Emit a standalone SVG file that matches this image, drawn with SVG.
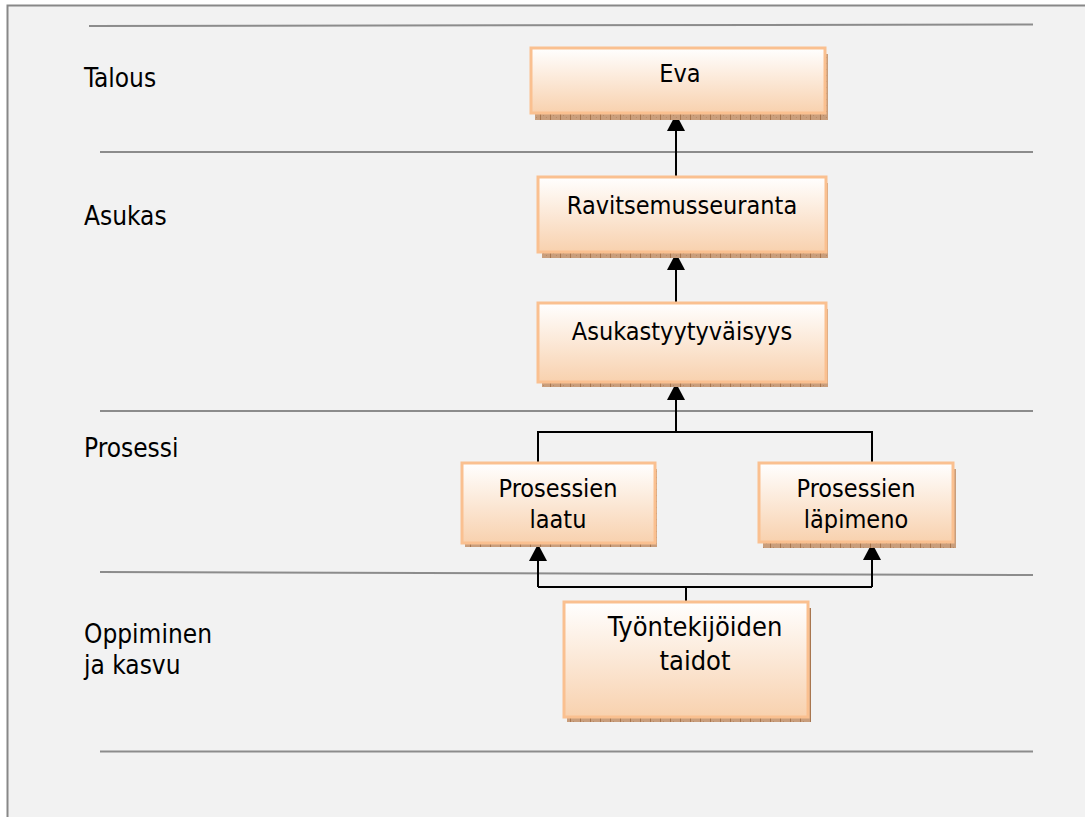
<svg xmlns="http://www.w3.org/2000/svg" width="1085" height="817" viewBox="0 0 1085 817">
  <style>
    .lane { stroke: #8c8c8c; stroke-width: 2; fill: none; }
    .lbl { font-family: "DejaVu Sans Condensed", "DejaVu Sans", sans-serif; font-stretch: condensed; font-size: 26px; fill: #000; }
    .box { fill: url(#peach); stroke: #fac090; stroke-width: 3; }
    .shadow { fill: url(#grain); }
    .btxt { font-family: "DejaVu Sans Condensed", "DejaVu Sans", sans-serif; font-stretch: condensed; font-size: 25px; fill: #000; text-anchor: middle; }
    .big { font-size: 27px; }
    .conn { stroke: #000; stroke-width: 2; fill: none; }
  </style>
  <defs>
    <linearGradient id="peach" x1="0" y1="0" x2="0" y2="1">
      <stop offset="0" stop-color="#ffffff"/>
      <stop offset="1" stop-color="#f8d1ae"/>
    </linearGradient>
    <pattern id="grain" width="10" height="6" patternUnits="userSpaceOnUse">
      <rect width="10" height="6" fill="#c99e7c"/>
      <rect x="0" y="0" width="1" height="6" fill="#a8764f"/>
      <rect x="3" y="1" width="1" height="1" fill="#b98a66"/>
      <rect x="6" y="3" width="1" height="1" fill="#b98a66"/>
    </pattern>
    <marker id="arrow" markerUnits="userSpaceOnUse" markerWidth="17" markerHeight="18" refX="17" refY="9" orient="auto">
      <path d="M0,0 L17,9 L0,18 Z" fill="#000"/>
    </marker>
  </defs>

  <!-- page -->
  <rect x="0" y="0" width="1085" height="817" fill="#ffffff"/>
  <rect x="7.5" y="5.5" width="1100" height="900" fill="#f2f2f2" stroke="#888888" stroke-width="2"/>

  <!-- perspective lanes -->
  <g id="lanes">
    <path class="lane" d="M89,26 L1033,24.5"/>
    <path class="lane" d="M100,152 L1033,152"/>
    <path class="lane" d="M100,411 L1033,411"/>
    <path class="lane" d="M100,572 L1033,575"/>
    <path class="lane" d="M100,751.5 L1033,751.5"/>
  </g>

  <g id="lane-labels">
    <text class="lbl" x="84" y="87">Talous</text>
    <text class="lbl" x="84" y="225">Asukas</text>
    <text class="lbl" x="84" y="457">Prosessi</text>
    <text class="lbl" x="84" y="643">Oppiminen</text>
    <text class="lbl" x="84" y="674">ja kasvu</text>
  </g>

  <!-- connectors -->
  <g id="connectors">
    <path class="conn" d="M676,177 V114" marker-end="url(#arrow)"/>
    <path class="conn" d="M676,303 V253" marker-end="url(#arrow)"/>
    <path class="conn" d="M676,432 V383" marker-end="url(#arrow)"/>
    <path class="conn" d="M538,463 V432 H872 V463"/>
    <path class="conn" d="M686,602 V587"/>
    <path class="conn" d="M538,587 H872"/>
    <path class="conn" d="M538,587 V544" marker-end="url(#arrow)"/>
    <path class="conn" d="M872,587 V543" marker-end="url(#arrow)"/>
  </g>

  <g id="eva">
    <rect class="shadow" x="535" y="54" width="293" height="66"/>
    <rect class="box" x="531" y="48" width="294" height="65"/>
    <text class="btxt" x="680" y="82">Eva</text>
  </g>

  <g id="ravitsemusseuranta">
    <rect class="shadow" x="542" y="183" width="286" height="75"/>
    <rect class="box" x="538" y="177" width="288" height="75"/>
    <text class="btxt" x="682" y="214">Ravitsemusseuranta</text>
  </g>

  <g id="asukastyytyvaisyys">
    <rect class="shadow" x="542" y="309" width="286" height="78"/>
    <rect class="box" x="538" y="303" width="288" height="79"/>
    <text class="btxt" x="682" y="340">Asukastyytyväisyys</text>
  </g>

  <g id="prosessien-laatu">
    <rect class="shadow" x="465" y="469" width="192" height="78"/>
    <rect class="box" x="462" y="463" width="193" height="80"/>
    <text class="btxt" x="558" y="497">Prosessien</text>
    <text class="btxt" x="558" y="528">laatu</text>
  </g>

  <g id="prosessien-lapimeno">
    <rect class="shadow" x="763" y="469" width="193" height="79"/>
    <rect class="box" x="759" y="463" width="194" height="79"/>
    <text class="btxt" x="856" y="497">Prosessien</text>
    <text class="btxt" x="856" y="528">läpimeno</text>
  </g>

  <g id="tyontekijoiden-taidot">
    <rect class="shadow" x="567" y="608" width="244" height="114"/>
    <rect class="box" x="564" y="602" width="244" height="115"/>
    <text class="btxt big" x="695" y="636">Työntekijöiden</text>
    <text class="btxt big" x="695" y="670">taidot</text>
  </g>
</svg>
